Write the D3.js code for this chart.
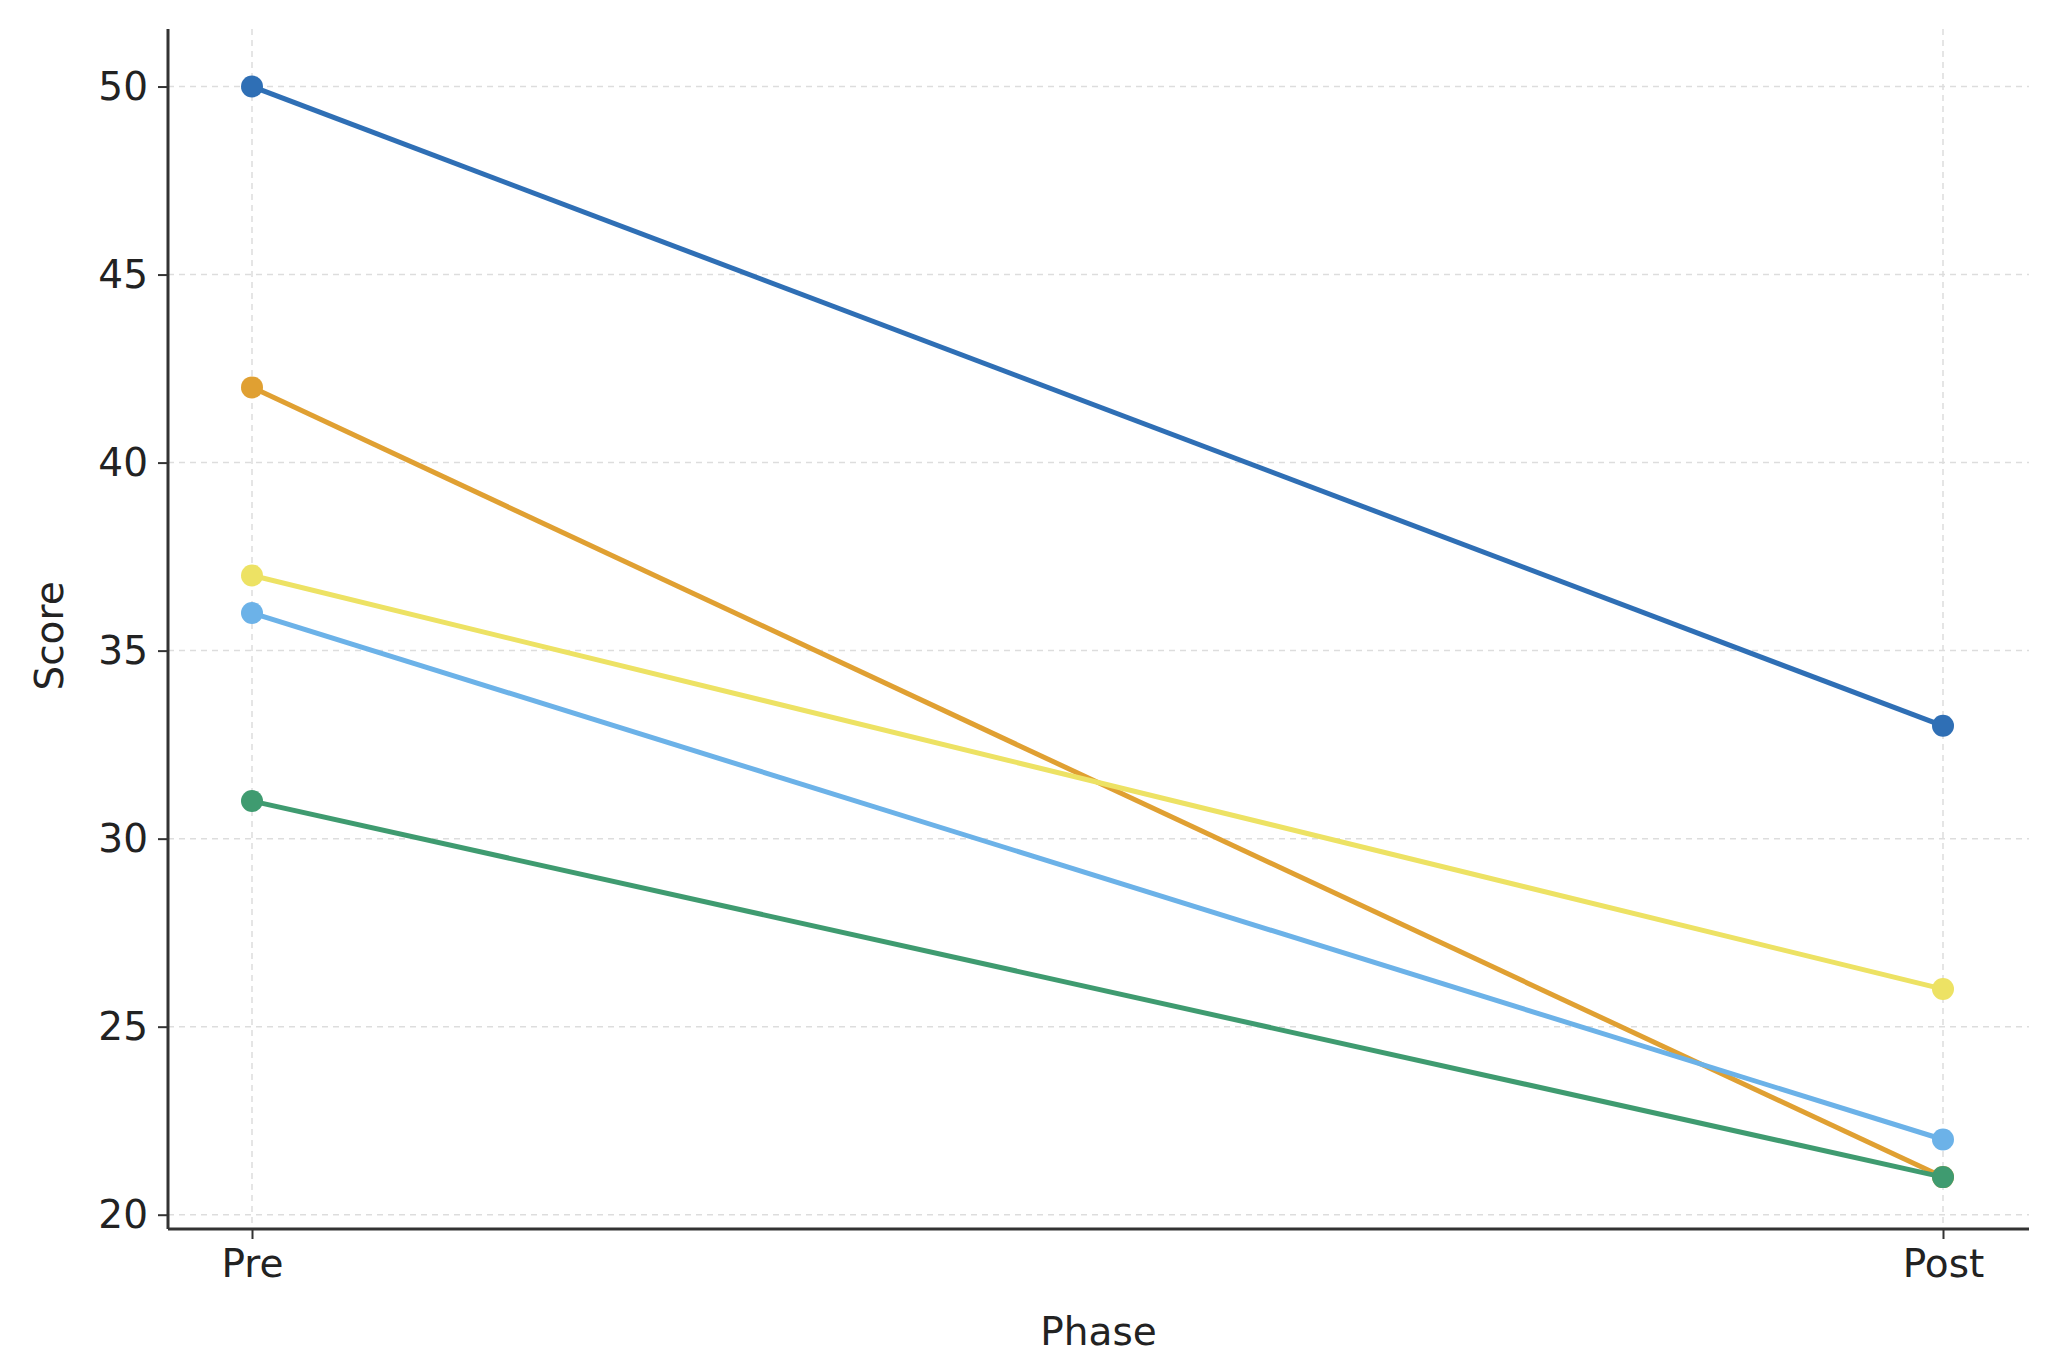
<!DOCTYPE html>
<html><head><meta charset="utf-8">
<script src="https://cdn.jsdelivr.net/npm/d3@7"></script>
<style>body{margin:0;background:#fff}svg{font-family:"DejaVu Sans",sans-serif}</style>
</head><body>
<svg id="chart" width="2046" height="1367"></svg>
<script>
const phases = ["Pre", "Post"];
const preScores = [50, 42, 37, 36, 31];
const postScores = [33, 21, 26, 22, 21];
const colors = ["#2f6fb5", "#e0a032", "#ede264", "#6cb2e8", "#3f9b70"];
const yTicks = [20, 25, 30, 35, 40, 45, 50];

const svg = d3.select("#chart");
const plotLeft = 168, plotRight = 2029, plotTop = 29, plotBottom = 1229;

const x = d3.scalePoint().domain(phases).range([252, 1943]);
const y = d3.scaleLinear().domain([19.62, 51.53]).range([plotBottom, plotTop]);

// grid
svg.append("g").selectAll("line").data(yTicks).enter().append("line")
    .attr("x1", plotLeft).attr("x2", plotRight)
    .attr("y1", d => y(d)).attr("y2", d => y(d))
    .attr("stroke", "#ddd").attr("stroke-width", 1.5).attr("stroke-dasharray", "6,5");
svg.append("g").selectAll("line").data(phases).enter().append("line")
    .attr("x1", d => x(d)).attr("x2", d => x(d))
    .attr("y1", plotTop).attr("y2", plotBottom)
    .attr("stroke", "#ddd").attr("stroke-width", 1.5).attr("stroke-dasharray", "6,5");

// axes
const yAxis = svg.append("g").attr("transform", `translate(${plotLeft},0)`)
    .call(d3.axisLeft(y).tickValues(yTicks).tickSize(10).tickPadding(10));
const xAxis = svg.append("g").attr("transform", `translate(0,${plotBottom})`)
    .call(d3.axisBottom(x).tickSize(10).tickPadding(10));
[yAxis, xAxis].forEach(a => {
    a.select(".domain").attr("stroke", "#333").attr("stroke-width", 3);
    a.selectAll(".tick line").attr("stroke", "#333").attr("stroke-width", 2);
    a.selectAll("text").attr("font-size", 39).attr("fill", "#222").attr("font-family", "DejaVu Sans");
});
xAxis.select(".domain").attr("d", `M${plotLeft},0H${plotRight}`);
yAxis.select(".domain").attr("d", `M0,${plotTop}V${plotBottom}`);

// lines
preScores.forEach((pre, i) => {
    const vals = [pre, postScores[i]];
    svg.append("path")
        .attr("d", d3.line().x((d, j) => x(phases[j])).y(d => y(d))(vals))
        .attr("fill", "none").attr("stroke", colors[i]).attr("stroke-width", 5);
    svg.append("g").selectAll("circle").data(vals).enter().append("circle")
        .attr("cx", (d, j) => x(phases[j])).attr("cy", d => y(d))
        .attr("r", 11).attr("fill", colors[i]);
});

svg.append("text").attr("x", (plotLeft + plotRight) / 2).attr("y", 1345)
    .attr("text-anchor", "middle").attr("font-size", 39).attr("fill", "#222").text("Phase");
svg.append("text").attr("transform", "translate(63,636) rotate(-90)")
    .attr("text-anchor", "middle").attr("font-size", 39).attr("fill", "#222").text("Score");
</script>
</body></html>
